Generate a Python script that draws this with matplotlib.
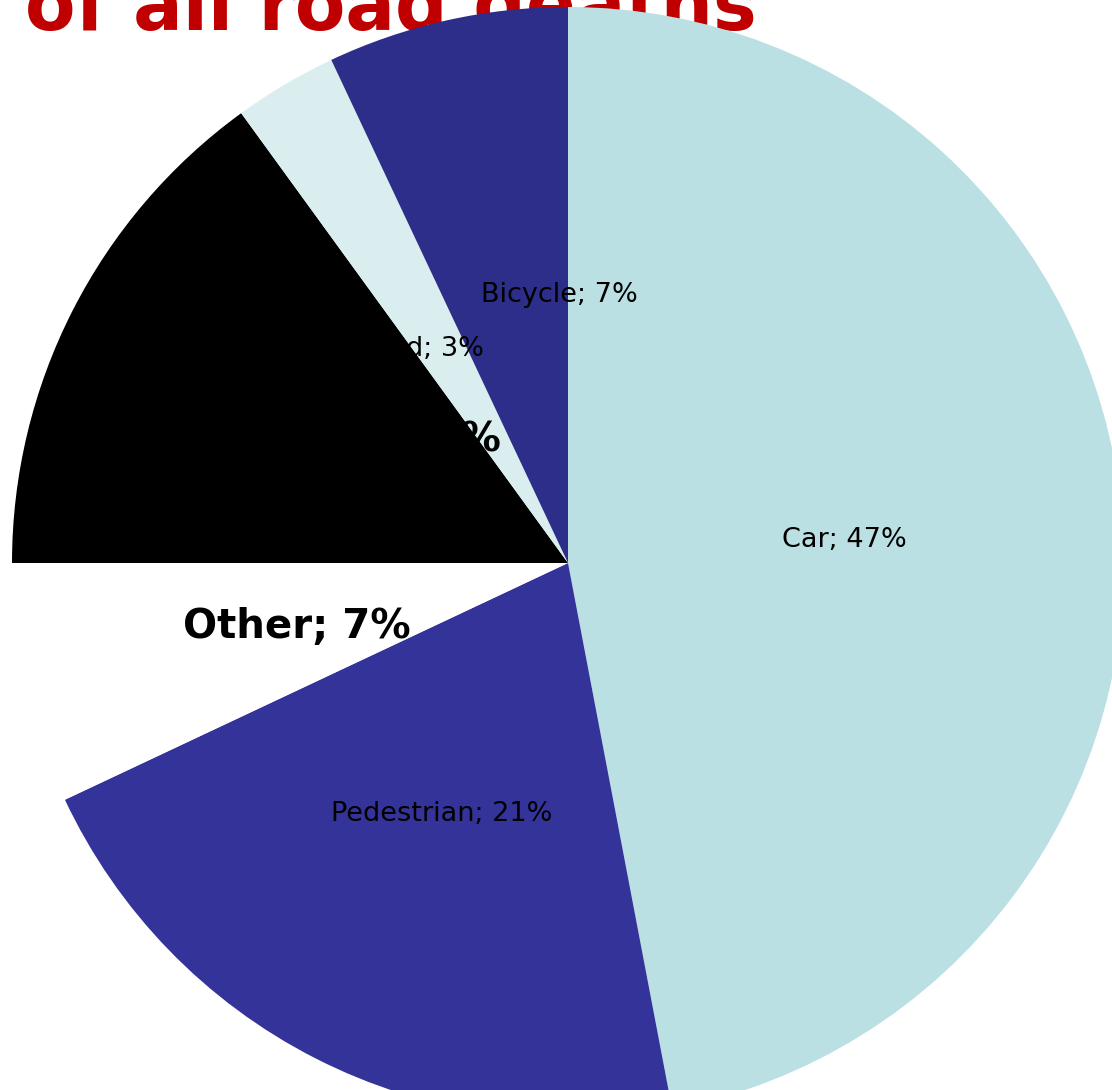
import numpy as np
import matplotlib
matplotlib.use("Agg")
import matplotlib.pyplot as plt

# datos del grafico (sentido horario desde las 12)
categorias = ["Car", "Pedestrian", "Other", "Motorcycle", "Moped", "Bicycle"]
porcentajes = [47, 21, 7, 15, 3, 7]
colores = ["#BBE0E3", "#343399", "#FFFFFF", "#000000", "#DAEEF0", "#2D2D8A"]
negrita = [False, False, True, True, False, False]
titulo = "of all road deaths"

W, H = 1112, 1090
fig = plt.figure(figsize=(W / 100, H / 100), dpi=100)
ax = fig.add_axes([0, 0, 1, 1])

# centro y radio en pixeles
cx, cy, r = 568, H - 563, 556

# titulo (queda detras de la tarta, cortado arriba como en el original)
ax.text(25, H - 30, titulo, color="#C00000", fontsize=53, fontweight="bold",
        ha="left", va="baseline", zorder=0)

wedges, _ = ax.pie(porcentajes, colors=colores, startangle=90, counterclock=False,
                   center=(cx, cy), radius=r, frame=True,
                   wedgeprops=dict(linewidth=0, zorder=1))
ax.set_xlim(0, W)
ax.set_ylim(0, H)
ax.axis("off")

# etiquetas en el medio del radio, con algun ajuste
ajustes = {"Bicycle": (52, 0), "Moped": (-19, -22), "Motorcycle": (-7, 0)}
for w, cat, p, b in zip(wedges, categorias, porcentajes, negrita):
    ang = np.deg2rad((w.theta1 + w.theta2) / 2)
    x = cx + 0.5 * r * np.cos(ang)
    y = cy + 0.5 * r * np.sin(ang)
    dx, dy = ajustes.get(cat, (0, 0))
    ax.text(x + dx, y + dy - 3, f"{cat}; {p}%", ha="center", va="center",
            fontsize=29 if b else 19.5, fontweight="bold" if b else "normal",
            color="black", zorder=3)

fig.savefig("out.png", dpi=100)
